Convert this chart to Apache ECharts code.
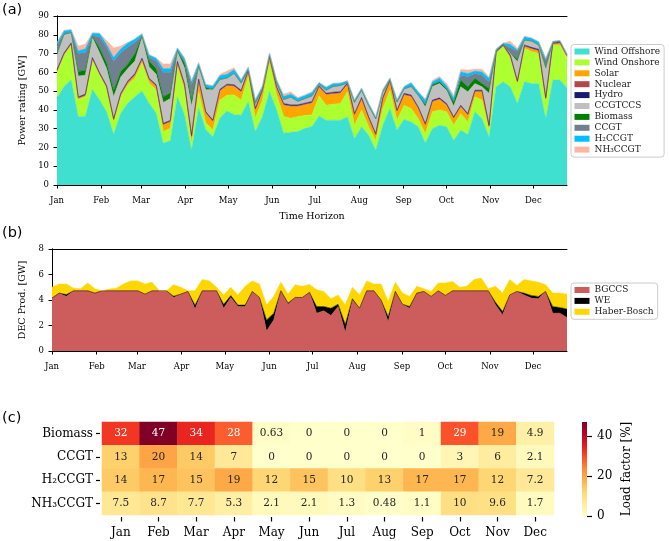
<!DOCTYPE html>
<html><head><meta charset="utf-8">
<script src="https://cdn.jsdelivr.net/npm/echarts@6/dist/echarts.min.js"></script>
<style>html,body{margin:0;padding:0;background:#fff}#c{width:669px;height:541px}</style>
</head><body><div id="c"></div>
<script>
// ---- time axis ----
const monthNames = ['Jan','Feb','Mar','Apr','May','Jun','Jul','Aug','Sep','Oct','Nov','Dec'];
const monthStartDays = [0,31,59,90,120,151,181,212,243,273,304,334];
const axisEndDay = 357.6;

// ---- panel (a): power rating [GW], stacked ----
const windOffshore = [46.2,52.5,56,36.5,36.5,51,45.4,39,27,38.2, 43.6,47,50,43.6,38.2,22.2,23.7,47,37.4,18.7, 41,29.6,25.7,35.7,39.5,37.4,37.2,44.5,28.5,36.5, 49.8,40,27.6,28.1,28.5,30.2,31.1,36.8,34.5,34.5, 34.5,36.3,24.7,31,26.5,18.5,31.8,40.7,29.2,35, 33.6,31,22.4,30,31.8,31,23.8,29.2,26.9,39, 35.4,25.6,52.3,55,52.3,43.4,55,54,54,35.4, 55.9,55.9,51.8];
const windOnshore = [14.3,16.9,18.7,9.2,10.6,15.7,13.3,12.6,6.8,8.8, 9.8,10,15,10.7,12.5,6.3,6.5,16,13.3,3.5, 8.7,3.7,3.6,9.5,8.3,10.6,8,13.3,7.1,8.9, 15.2,8,8.9,7.5,8,6.8,6.3,10.7,8,8.5, 8.9,13.3,7.1,8.9,4.5,5.3,8.9,9.8,5.3,7.5, 7.1,4.4,5,9,8.2,8,8.1,8.8,6.7,8, 9.8,3.6,17.8,18.7,15.1,10.6,17.8,17,16.1,9.8, 18.7,18.7,15.6];
const solar = [0.1,0.1,0.1,0.3,0.4,0.3,0.3,0.4,0.7,1, 1.1,1.5,1.7,1.7,1.8,3.5,3.3,2,2.3,3.3, 5.8,4.9,4.4,4.9,5,4.5,4.3,2.5,4.4,4.4, 2.6,3.6,6,6.2,5.3,5.7,6.2,4.5,5.5,5.5, 5.4,3.9,5.4,5.8,4.4,2.7,5,4.5,4.5,5.4, 6.3,5.3,4.4,5.3,5.5,3.5,3.5,3.6,3.6,2.6, 4.4,1.8,0.5,0.3,0.9,0.6,0.9,1.4,1.3,0.5, 0.4,0.8,0.6];
const nuclear = [0.4,0.4,0.4,0.4,0.4,0.4,0.4,0.4,0.4,0.4, 0.4,0.4,0.4,0.4,0.4,0.4,0.4,0.4,0.4,0.4, 0.4,0.4,0.4,0.4,0.4,0.4,0.4,0.4,0.4,0.4, 0.4,0.4,0.4,0.4,0.4,0.4,0.4,0.4,0.4,0.4, 0.4,0.4,0.4,0.4,0.4,0.4,0.4,0.4,0.4,0.4, 0.4,0.4,0.4,0.4,0.4,0.4,0.4,0.4,0.4,0.4, 0.4,0.4,0.4,0.4,0.4,0.4,0.4,0.4,0.4,0.4, 0.4,0.4,0.4];
const hydro = [0.5,0.5,0.5,0.5,0.5,0.5,0.5,0.5,0.5,0.5, 0.5,0.5,0.5,0.5,0.5,0.5,0.5,0.5,0.5,0.5, 0.5,0.5,0.5,0.5,0.5,0.5,0.5,0.5,0.5,0.5, 0.5,0.5,0.5,0.5,0.5,0.5,0.5,0.5,0.5,0.5, 0.5,0.5,0.5,0.5,0.5,0.5,0.5,0.5,0.5,0.5, 0.5,0.5,0.5,0.5,0.5,0.5,0.5,0.5,0.5,0.5, 0.5,0.5,0.5,0.5,0.5,0.5,0.5,0.5,0.5,0.5, 0.5,0.5,0.5];
const ccgtccs = [8,9.6,5.3,11.1,10.1,10.6,10.6,9.1,11.6,8.6, 6.6,6.6,10.9,6.1,5.6,11.1,11.6,5.1,8.6,15.6, 6.6,11.6,16.2,5.2,3.3,6.1,3.9,0.2,2.6,0.3, 0.5,2,2.1,4.1,1.9,2.4,3,0.7,1.6,3.1, 3.3,0.1,5.9,3.9,6,7.8,2.9,0.1,4.3,2.4, 4.6,6.2,8.8,7.3,7.6,7.1,5.7,9.8,11.5,3.5, 1.8,16.9,0,0,0.9,10.2,2.6,3.4,2.3,15.5, 0.1,0,0.3];
const biomass = [0.3,0.3,0.2,2.5,2.5,0.8,2.5,3,3.5,3, 2.5,4,0.8,3,3,3,3,0.5,2.5,3, 0.3,1.3,0.2,0,0,0,0,0,0,0, 0,0,0,0,0,0,0,0,0,0, 0,0,0,0,0,0,0,0,0,0, 0,0,1.5,1,1,0.9,2.3,3.6,2.7,2.8, 1.8,2.6,0,0,0.3,1.3,0,0,0,0.5, 0,0.3,0];
const ccgt = [4.5,0.5,0,9.5,9.5,0.2,6,8.5,15.5,10, 9,6,0,2,4,13,11,0,1,8.5, 0,0,0,0,0,0,0,0,0,0, 0,0,0,0,0,0,0,0,0,0, 0,0,0,0,0,0,0,0,0,0, 0,0,0,0,0,0,0,2.6,5.3,2.6, 4.4,3.6,0,0,2.7,4.4,0,0,0,3.9, 0,0,0];
const h2ccgt = [1.5,1.5,1.5,1.5,2,1.5,1.8,1.5,2,2, 2.1,1.8,1.2,1.4,1.6,2,2,1.5,1.6,1.9, 1.8,1.5,1.7,2.1,2,2,1.7,1.3,1.9,1.6, 1.3,1.5,1.7,1.7,1.6,1.6,1.7,1,1.5,1.5, 1.3,1,1.3,1.1,1.2,1.1,1.2,1,1.2,1.3, 2,1.8,2.2,1.5,2,1.6,2.1,1.8,1.8,1.3, 1.8,1.8,0.9,0.7,1.8,0.6,1.8,1.4,1.7,0.9, 0.5,0.4,0.6];
const nh3ccgt = [0,0,0,2.5,2.5,0,0,2,5,1.5, 0.4,0,0,0,0,2.5,2.5,0,0,0, 0,0,0.3,0.5,1.7,1,0,0,0,0, 0,0,1.1,1.1,0.4,0.5,0.6,0,0.3,0.3, 0,0,0,0,0,0,0,0,0,0, 0,0,0.8,0.8,0.8,1,1.5,1.2,1.8,1, 1.3,0.9,0,0,1.7,0.8,0.3,0.3,0,0, 0,0,0];

// ---- panel (b): DEC production [GW], stacked ----
const bgccs = [4.15,4.54,4.28,4.72,4.72,4.72,4.54,4.72,4.72,4.72, 4.72,4.72,4.72,4.46,4.72,4.72,4.72,4.2,4.46,4.67, 3.3,4.72,4.72,4.72,3.36,4.2,3.5,3.5,4.67,4.2, 1.57,2.44,4.72,3.67,4.2,4.2,4.6,2.97,3.15,2.78, 3.49,1.47,4.0,3.36,4.72,4.72,4.0,2.3,4.67,3.67, 3.36,4.54,4.67,4.28,4.72,4.36,4.72,4.72,4.72,4.72, 4.72,4.72,3.62,2.83,4.4,4.67,4.4,4.15,4.1,4.67, 2.97,2.97,2.62];
const we = [0,0,0.15,0,0,0,0,0,0,0, 0,0,0,0,0,0,0,0.1,0,0, 0.3,0,0,0,0.3,0.15,0.1,0.1,0,0, 0.87,0.53,0,0.1,0,0,0,0.52,0.34,0.58, 0.18,0.63,0.1,0,0,0,0,0.4,0,0, 0.13,0,0,0,0,0,0,0,0,0, 0,0,0.21,0.27,0,0,0.14,0.21,0.18,0, 0.52,0.44,0.68];
const haberBosch = [0.85,0.71,0.82,0.21,0.16,0.61,0.34,0,0.14,0.21, 0.53,0.78,0.78,0.79,0.68,0,0,0.9,0.54,0.05, 1.12,0.88,0.78,0.28,0.74,0.65,0.8,1.47,0.83,1.05, 1.18,1.31,0.68,0.69,1.0,0.87,0.62,1.31,1.18,0.74, 0.73,1.52,0.9,1.04,0.78,0.53,1.25,1.18,0.73,0.87, 0.79,0.53,0.21,0.39,0.61,0.97,0.74,0.28,0.35,0.88, 1.0,0.16,1.24,1.44,1.2,0.47,1.06,1.14,1.12,0.53, 1.05,1.13,1.16];

// ---- panel (c): load factor [%] ----
const heatRows = ['Biomass','CCGT','H\u2082CCGT','NH\u2083CCGT'];
const heatMonths = ['Jan','Feb','Mar','Apr','May','Jun','Jul','Aug','Sep','Oct','Nov','Dec'];
const lfBiomass = [32,47,34,28,0.63,0,0,0,1,29,19,4.9];
const lfCCGT = [13,20,14,7,0,0,0,0,0,3,6,2.1];
const lfH2CCGT = [14,17,15,19,12,15,10,13,17,17,12,7.2];
const lfNH3CCGT = [7.5,8.7,7.7,5.3,2.1,2.1,1.3,0.48,1.1,10,9.6,1.7];
const lfMax = 47;
const colorbarTicks = [0,20,40];

// ---- build ----
const FONT = 'DejaVu Serif';
const ylorrd = ['#ffffcc','#ffeda0','#fed976','#feb24c','#fd8d3c','#fc4e2a','#e31a1c','#bd0026','#800026'];
const periodCats = windOffshore.map((_, i) => String(i));
const monthFmt = v => { const k = monthStartDays.indexOf(Math.round(v)); return k>=0 ? monthNames[k] : ''; };

const panelA = [
  ['Wind Offshore', windOffshore, '#40E0D0'],
  ['Wind Onshore', windOnshore, '#ADFF2F'],
  ['Solar', solar, '#FFA500'],
  ['Nuclear', nuclear, '#B5474B'],
  ['Hydro', hydro, '#191970'],
  ['CCGTCCS', ccgtccs, '#C0C0C0'],
  ['Biomass', biomass, '#008000'],
  ['CCGT', ccgt, '#708090'],
  ['H\u2082CCGT', h2ccgt, '#00BFFF'],
  ['NH\u2083CCGT', nh3ccgt, '#FFB6A0']
];
const panelB = [
  ['BGCCS', bgccs, '#CD5C5C'],
  ['WE', we, '#000000'],
  ['Haber-Bosch', haberBosch, '#FFD700']
];

function areaSeries(def, xIdx, yIdx, stack){
  return {
    type:'line', name:def[0], data:def[1], stack:stack,
    xAxisIndex:xIdx, yAxisIndex:yIdx, symbol:'none', showSymbol:false,
    color:def[2], lineStyle:{width:0.5, color:def[2]}, areaStyle:{color:def[2], opacity:1},
    emphasis:{disabled:true}, silent:true
  };
}

const heatData = [];
[lfBiomass, lfCCGT, lfH2CCGT, lfNH3CCGT].forEach((row, r) => {
  row.forEach((v, c) => {
    heatData.push({value:[c, r, v], label:{color: v > 25 ? '#ffffff' : '#262626'}});
  });
});

const axisLine = {show:true, lineStyle:{color:'#000', width:1}};
const tickStyle = {show:true, inside:false, length:3.5, lineStyle:{color:'#000', width:1}};
const smallLabel = {fontFamily:FONT, fontSize:8.5, color:'#000'};

function catXAxis(grid){
  return {type:'category', gridIndex:grid, data:periodCats, boundaryGap:false, show:false};
}
function timeXAxis(grid, withName){
  return {
    type:'value', gridIndex:grid, min:0, max:axisEndDay, position:'bottom',
    axisLine:axisLine, splitLine:{show:false},
    axisTick:Object.assign({customValues:monthStartDays}, tickStyle),
    axisLabel:Object.assign({customValues:monthStartDays, formatter:monthFmt, margin:11}, smallLabel),
    name: withName ? 'Time Horizon' : '', nameLocation:'middle', nameGap:27,
    nameTextStyle:{fontFamily:FONT, fontSize:9.5, color:'#000'}
  };
}
function borderXAxis(grid){
  return {type:'value', gridIndex:grid, min:0, max:axisEndDay, position:'top',
    axisLine:axisLine, axisTick:{show:false}, axisLabel:{show:false}, splitLine:{show:false}};
}
function valYAxis(grid, max, interval, name, gap){
  return {type:'value', gridIndex:grid, min:0, max:max, interval:interval, position:'left',
    axisLine:axisLine, axisTick:tickStyle, splitLine:{show:false},
    axisLabel:Object.assign({margin:8}, smallLabel),
    name:name, nameLocation:'middle', nameRotate:90, nameGap:gap,
    nameTextStyle:{fontFamily:FONT, fontSize:9.5, color:'#000'}};
}
function borderYAxis(grid, max){
  return {type:'value', gridIndex:grid, min:0, max:max, position:'right',
    axisLine:axisLine, axisTick:{show:false}, axisLabel:{show:false}, splitLine:{show:false}};
}

const legendCommon = {
  orient:'vertical', icon:'rect', itemWidth:15, itemHeight:6, itemGap:1.9,
  textStyle:{fontFamily:FONT, fontSize:9, color:'#222'},
  backgroundColor:'#fff', borderColor:'#cccccc', borderWidth:1, borderRadius:3,
  padding:[2.5,4,3,3.5], selectedMode:false
};

const option = {
  animation:false,
  textStyle:{fontFamily:FONT},
  graphic:[
    {type:'text', left:2, top:3, style:{text:'(a)', font:'14.5px "DejaVu Sans"', fill:'#000'}},
    {type:'text', left:2, top:226, style:{text:'(b)', font:'14.5px "DejaVu Sans"', fill:'#000'}},
    {type:'text', left:2, top:411, style:{text:'(c)', font:'14.5px "DejaVu Sans"', fill:'#000'}}
  ],
  legend:[
    Object.assign({data:panelA.map(d=>d[0]), left:571, top:44.5}, legendCommon),
    Object.assign({data:panelB.map(d=>d[0]), left:571, top:283}, legendCommon)
  ],
  grid:[
    {left:57, top:16, width:510, height:169},
    {left:52, top:249, width:515, height:102},
    {left:102, top:422, width:452, height:93},
    {left:582, top:422, width:5, height:94}
  ],
  xAxis:[
    catXAxis(0), timeXAxis(0, true), borderXAxis(0),
    catXAxis(1), timeXAxis(1, false), borderXAxis(1),
    {type:'category', gridIndex:2, data:heatMonths, offset:2,
      axisLine:{show:false}, axisTick:{show:true, alignWithLabel:true, length:4.5, lineStyle:{color:'#000', width:1.2}},
      axisLabel:{fontFamily:FONT, fontSize:12, color:'#000', margin:10}, splitLine:{show:false}},
    {type:'category', gridIndex:3, data:[''], show:false}
  ],
  yAxis:[
    valYAxis(0, 90, 10, 'Power rating [GW]', 28), borderYAxis(0, 90),
    valYAxis(1, 8, 2, 'DEC Prod. [GW]', 23), borderYAxis(1, 8),
    {type:'category', gridIndex:2, data:heatRows, inverse:true, offset:2,
      axisLine:{show:false}, axisTick:{show:true, alignWithLabel:true, length:4, lineStyle:{color:'#000', width:1.2}},
      axisLabel:{fontFamily:FONT, fontSize:12, color:'#000', margin:7}, splitLine:{show:false}},
    {type:'value', gridIndex:3, min:0, max:lfMax, position:'right',
      axisLine:{show:false}, splitLine:{show:false},
      axisTick:{show:true, customValues:colorbarTicks, length:5, lineStyle:{color:'#000', width:1.2}},
      axisLabel:{customValues:colorbarTicks, fontFamily:FONT, fontSize:12, color:'#000', margin:10},
      name:'Load factor [%]', nameLocation:'middle', nameRotate:90, nameGap:34,
      nameTextStyle:{fontFamily:FONT, fontSize:12, color:'#000'}}
  ],
  visualMap:{type:'continuous', min:0, max:lfMax, seriesIndex:13, show:false, inRange:{color:ylorrd}},
  series: [
    ...panelA.map(d => areaSeries(d, 0, 0, 'a')),
    ...panelB.map(d => areaSeries(d, 3, 2, 'b')),
    {type:'heatmap', xAxisIndex:6, yAxisIndex:4, data:heatData, silent:true,
      label:{show:true, fontFamily:FONT, fontSize:10.5, formatter: p => String(p.value[2])},
      emphasis:{disabled:true}},
    {type:'bar', xAxisIndex:7, yAxisIndex:5, data:[lfMax], barWidth:'100%', silent:true,
      itemStyle:{color:{type:'linear', x:0, y:1, x2:0, y2:0,
        colorStops: ylorrd.map((c,i)=>({offset:i/(ylorrd.length-1), color:c}))}}}
  ]
};

const chart = echarts.init(document.getElementById('c'), null, {renderer:'canvas'});
chart.setOption(option);
</script>
</body></html>
